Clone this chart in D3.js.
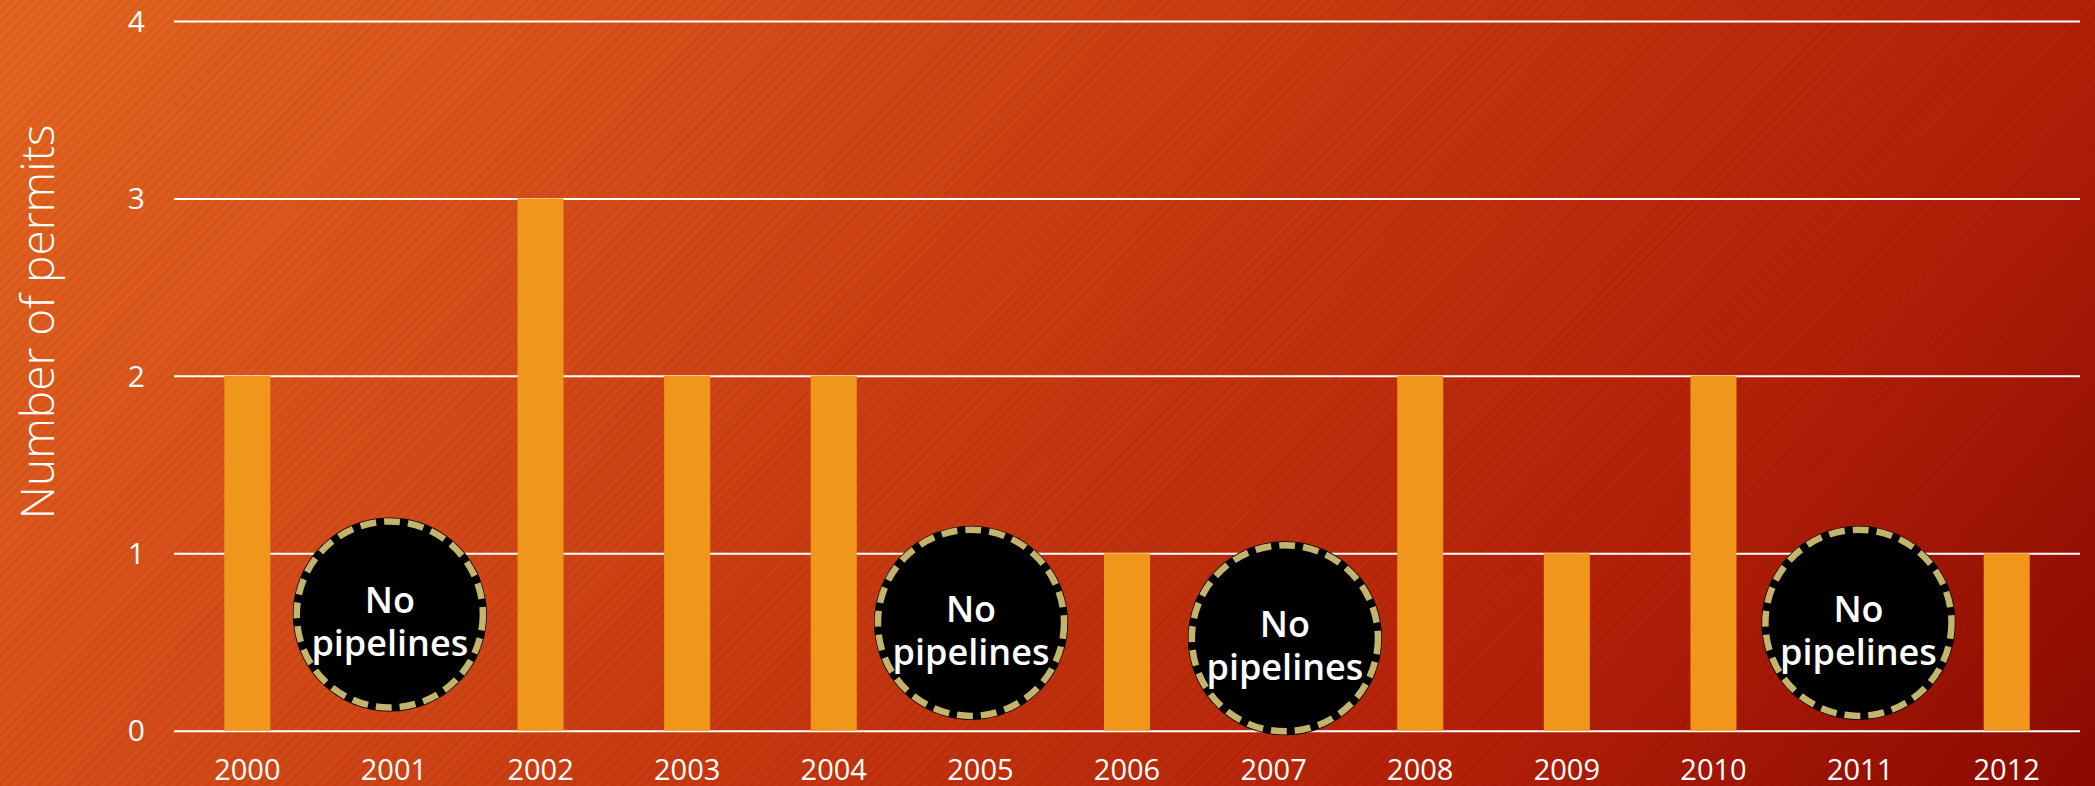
<!DOCTYPE html>
<html>
<head>
<meta charset="utf-8">
<script src="https://cdn.jsdelivr.net/npm/d3@7"></script>
<style>
  html, body { margin: 0; padding: 0; background: #c93a10; overflow: hidden; }
  svg { display: block; }
</style>
</head>
<body>
<svg id="chart" width="2095" height="786"></svg>
<script>
// ---- data ----
const years = ["2000","2001","2002","2003","2004","2005","2006","2007","2008","2009","2010","2011","2012"];
const permits = [2, 0, 3, 2, 2, 0, 1, 0, 2, 1, 2, 0, 1];
const yTicks = [0, 1, 2, 3, 4];
const yTitle = "Number of permits";
// "No pipelines" callouts: year, horizontal nudge (fraction of a band step), vertical centre (value units)
const noPipelineYears = ["2001", "2005", "2007", "2011"];
const noPipelineNudge = [-0.028, -0.064, 0.077, -0.011];
const noPipelineLevel = [0.655, 0.608, 0.521, 0.608];
const noPipelineLines = ["No", "pipelines"];

// ---- layout ----
const W = 2095, H = 786;
const plotLeft = 174, plotRight = 2080, plotTop = 21, plotBottom = 730.7;
const svg = d3.select("#chart");
const defs = svg.append("defs");

// background gradient
const grad = defs.append("linearGradient")
  .attr("id", "bg").attr("gradientUnits", "userSpaceOnUse")
  .attr("x1", 0).attr("y1", 0).attr("x2", 1626).attr("y2", 1369);
[[0, "#e6671f"], [0.24, "#d9501a"], [0.48, "#c93a10"], [0.76, "#b52008"], [1, "#8c0900"]]
  .forEach(([o, c]) => grad.append("stop").attr("offset", o).attr("stop-color", c));

const pat = defs.append("pattern")
  .attr("id", "stripes").attr("patternUnits", "userSpaceOnUse")
  .attr("width", 7).attr("height", 7)
  .attr("patternTransform", "rotate(45)");
pat.append("rect").attr("width", 3.5).attr("height", 7).attr("fill", "#000").attr("opacity", 0.05);

svg.append("rect").attr("width", W).attr("height", H).attr("fill", "url(#bg)");
svg.append("rect").attr("width", W).attr("height", H).attr("fill", "url(#stripes)");

// scales
const x = d3.scaleBand().domain(years).range([plotLeft, plotRight]).paddingInner(0.686).paddingOuter(0.343);
const y = d3.scaleLinear().domain([0, 4]).range([plotBottom, plotTop]);

// gridlines via axis
const yAxis = svg.append("g")
  .attr("transform", `translate(${plotLeft},0)`)
  .call(d3.axisLeft(y).tickValues(yTicks).tickSize(-(plotRight - plotLeft)).tickPadding(29).tickFormat(d3.format("d")));
yAxis.select(".domain").remove();
yAxis.selectAll(".tick line").attr("stroke", "#fff").attr("stroke-width", 2);
yAxis.selectAll(".tick text")
  .attr("fill", "#fff")
  .attr("font-family", "'Open Sans', sans-serif")
  .attr("font-size", 30)
  .attr("dy", "0.34em");

// bars
svg.append("g").selectAll("rect")
  .data(years.map((yr, i) => ({ yr, v: permits[i] })).filter(d => d.v > 0))
  .join("rect")
  .attr("x", d => x(d.yr))
  .attr("width", x.bandwidth())
  .attr("y", d => y(d.v))
  .attr("height", d => y(0) - y(d.v))
  .attr("fill", "#f0961a");

// x axis labels
const xAxis = svg.append("g")
  .attr("transform", `translate(0,${plotBottom})`)
  .call(d3.axisBottom(x).tickSize(0).tickPadding(0));
xAxis.select(".domain").remove();
xAxis.selectAll(".tick text")
  .attr("fill", "#fff")
  .attr("font-family", "'Open Sans', sans-serif")
  .attr("font-size", 29)
  .attr("dy", null)
  .attr("y", 49);

// y title
svg.append("text")
  .attr("transform", `translate(54,${(plotTop + plotBottom) / 2 - 54}) rotate(-90)`)
  .attr("text-anchor", "middle")
  .attr("fill", "#fff")
  .attr("font-family", "'Open Sans', sans-serif")
  .attr("font-weight", 300)
  .attr("font-size", 46)
  .text(yTitle);

// callouts
const rPx = y(0) - y(0.547);
const callouts = noPipelineYears.map((yr, i) => ({
  cx: x(yr) + x.bandwidth() / 2 + noPipelineNudge[i] * x.step(),
  cy: y(noPipelineLevel[i])
}));
const cg = svg.append("g").selectAll("g").data(callouts).join("g")
  .attr("transform", d => `translate(${d.cx},${d.cy})`);
cg.append("circle").attr("r", rPx).attr("fill", "#000");
cg.append("circle").attr("r", rPx - 4)
  .attr("fill", "none")
  .attr("stroke", "#c2b46c")
  .attr("stroke-width", 6.5)
  .attr("stroke-dasharray", "16 8");
cg.append("text")
  .attr("text-anchor", "middle")
  .attr("fill", "#fff")
  .attr("font-family", "'Open Sans', sans-serif")
  .attr("font-weight", 600)
  .attr("font-size", 36)
  .selectAll("tspan").data(noPipelineLines).join("tspan")
  .attr("x", 0)
  .attr("y", (d, i) => -1 + i * 43)
  .text(d => d);
</script>
</body>
</html>
